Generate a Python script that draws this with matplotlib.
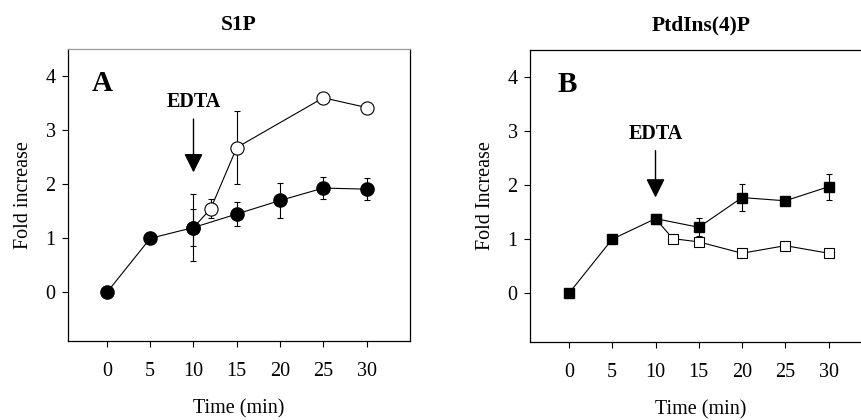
import matplotlib
matplotlib.use("Agg")
import matplotlib.pyplot as plt

plt.rcParams['font.family'] = ['Liberation Serif', 'DejaVu Serif']

# Panel A: S1P
time_a = [0, 5, 10, 15, 20, 25, 30]
s1p_ctrl = [0, 1.0, 1.2, 1.45, 1.7, 1.93, 1.91]
s1p_ctrl_err = [0, 0, 0.62, 0.23, 0.33, 0.2, 0.2]
time_a_edta = [10, 12, 15, 25, 30]
s1p_edta = [1.2, 1.55, 2.68, 3.6, 3.42]
s1p_edta_err = [0.35, 0.17, 0.68, 0, 0]

# Panel B: PtdIns(4)P
time_b = [0, 5, 10, 15, 20, 25, 30]
pi4p_ctrl = [0, 1.0, 1.38, 1.22, 1.77, 1.71, 1.97]
pi4p_ctrl_err = [0, 0, 0.05, 0.17, 0.25, 0.05, 0.24]
time_b_edta = [10, 12, 15, 20, 25, 30]
pi4p_edta = [1.38, 1.01, 0.95, 0.74, 0.88, 0.74]
pi4p_edta_err = [0, 0.03, 0.04, 0.06, 0.04, 0.04]

xticks = [0, 5, 10, 15, 20, 25, 30]
yticks = [0, 1, 2, 3, 4]

fig = plt.figure(figsize=(8.61, 4.2), dpi=100)
axA = fig.add_axes([0.079, 0.188, 0.397, 0.695])
axB = fig.add_axes([0.6156, 0.186, 0.397, 0.695])

eb = dict(ecolor='black', elinewidth=0.8, capsize=2.5, capthick=0.8, color='black', lw=0.8)
arrow = dict(arrowstyle='-|>,head_width=0.4,head_length=0.8',
             color='black', lw=1.0, shrinkA=3, shrinkB=0)

# --- A ---
axA.errorbar(time_a_edta, s1p_edta, yerr=s1p_edta_err, marker='o', ms=9.5,
             mfc='white', mec='black', mew=0.8, zorder=3, **eb)
axA.errorbar(time_a, s1p_ctrl, yerr=s1p_ctrl_err, marker='o', ms=9.5,
             mfc='black', mec='black', zorder=4, **eb)
axA.annotate('EDTA', xy=(10, 2.22), xytext=(10, 3.52), ha='center', va='center',
             fontsize=14.5, fontweight='bold', arrowprops=arrow)
axA.text(-0.6, 3.87, 'A', fontsize=21, fontweight='bold', ha='center', va='center')
axA.set_ylabel('Fold increase', fontsize=14.5, labelpad=9)
axA.set_title('S1P', fontsize=15.5, fontweight='bold', pad=14)
axA.spines['top'].set_color('#999999')

# --- B ---
axB.errorbar(time_b_edta, pi4p_edta, yerr=pi4p_edta_err, marker='s', ms=7.5,
             mfc='white', mec='black', mew=0.8, zorder=3, **eb)
axB.errorbar(time_b, pi4p_ctrl, yerr=pi4p_ctrl_err, marker='s', ms=7.5,
             mfc='black', mec='black', zorder=4, **eb)
axB.annotate('EDTA', xy=(10, 1.77), xytext=(10, 2.95), ha='center', va='center',
             fontsize=14.5, fontweight='bold', arrowprops=arrow)
axB.text(-0.2, 3.87, 'B', fontsize=21, fontweight='bold', ha='center', va='center')
axB.set_ylabel('Fold Increase', fontsize=14.5, labelpad=9)
axB.set_title('PtdIns(4)P', fontsize=15.5, fontweight='bold', pad=14)

for ax in (axA, axB):
    ax.set_xlim(-4.5, 35)
    ax.set_ylim(-0.9, 4.5)
    ax.set_xticks(xticks)
    ax.set_yticks(yticks)
    ax.tick_params(direction='out', length=4, width=0.8, labelsize=14.5, pad=11)
    ax.tick_params(axis='y', pad=5)
    ax.set_xlabel('Time (min)', fontsize=14.5, labelpad=13)
    for s in ax.spines.values():
        s.set_linewidth(0.9)

fig.savefig('out.png', dpi=100)
